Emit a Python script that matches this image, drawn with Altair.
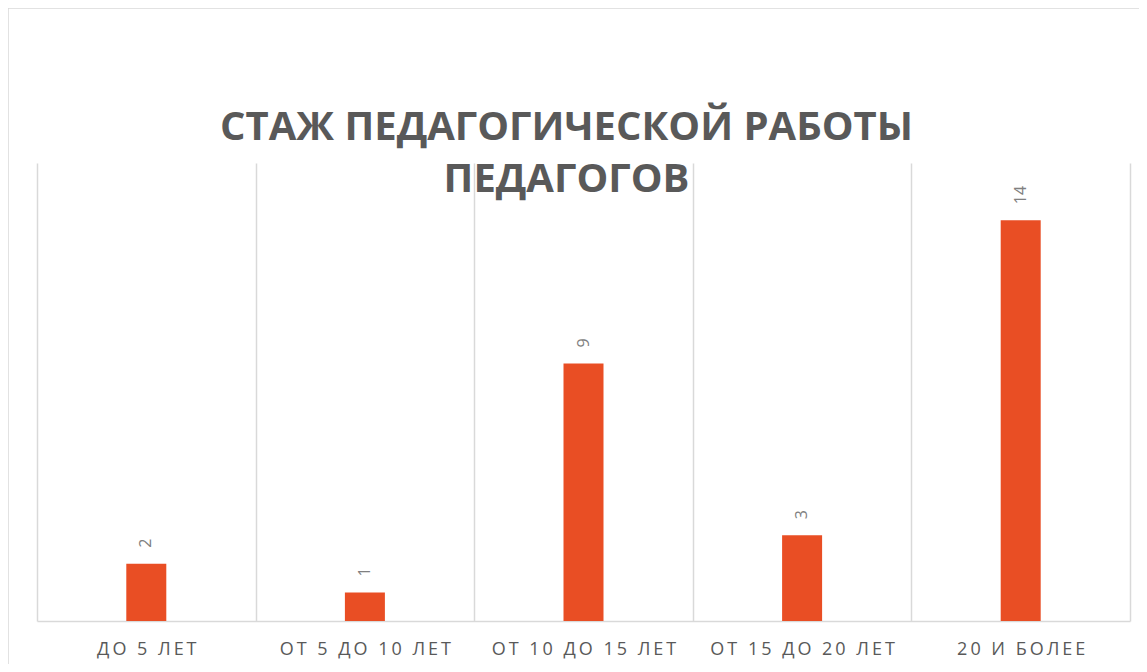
import altair as alt
import pandas as pd

categories = ["ДО 5 ЛЕТ", "ОТ 5 ДО 10 ЛЕТ", "ОТ 10 ДО 15 ЛЕТ", "ОТ 15 ДО 20 ЛЕТ", "20 И БОЛЕЕ"]
values = [2, 1, 9, 3, 14]
title_lines = ["СТАЖ ПЕДАГОГИЧЕСКОЙ РАБОТЫ", "ПЕДАГОГОВ"]

df = pd.DataFrame({"cat": categories, "val": values})
frame_df = pd.DataFrame({"k": [0]})

W, H = 1093, 458
GRID = "#d9d9d9"

x_enc = alt.X(
    "cat:N", sort=categories, title=None,
    scale=alt.Scale(paddingInner=0, paddingOuter=0),
    axis=alt.Axis(
        grid=True, gridColor=GRID, gridWidth=1.5, tickBand="extent", ticks=False,
        domainColor=GRID, domainWidth=1.5, labelAngle=0, labelFont="Open Sans",
        labelFontSize=18, labelColor="#595959", labelPadding=19, labelLimit=400,
        labelExpr="join(split(datum.label, ''), '\u2009')",
    ),
)
y_enc = alt.Y("val:Q", scale=alt.Scale(domain=[0, 16]), axis=None)

bars = alt.Chart(df).mark_bar(size=40, color="#E94E24").encode(x=x_enc, y=y_enc)

labels = alt.Chart(df).mark_text(
    angle=270, align="left", baseline="middle", dx=16,
    font="Open Sans", fontSize=16, color="#808080",
).encode(x=alt.X("cat:N", sort=categories), y=y_enc, text="val:Q")

frame_left = alt.Chart(frame_df).mark_rule(color=GRID, strokeWidth=1.5).encode(
    x=alt.value(-29), y=alt.value(-155), y2=alt.value(H + 60)
)
frame_top = alt.Chart(frame_df).mark_rule(color=GRID, strokeWidth=1.5).encode(
    x=alt.value(-29), x2=alt.value(W + 20), y=alt.value(-155)
)

chart = alt.layer(bars, labels, frame_left, frame_top).properties(
    width=W, height=H,
    title=alt.TitleParams(
        title_lines, font="Open Sans", fontSize=40, fontWeight="bold",
        color="#595959", anchor="middle", frame="group", offset=-193, dx=-17,
        lineHeight=52,
    ),
    autosize=alt.AutoSizeParams(type="none"),
    padding={"left": 29, "top": 155, "right": 9, "bottom": 43},
).configure_view(stroke=None)

chart.save("out.html", embed_options={"renderer": "svg", "actions": False})
